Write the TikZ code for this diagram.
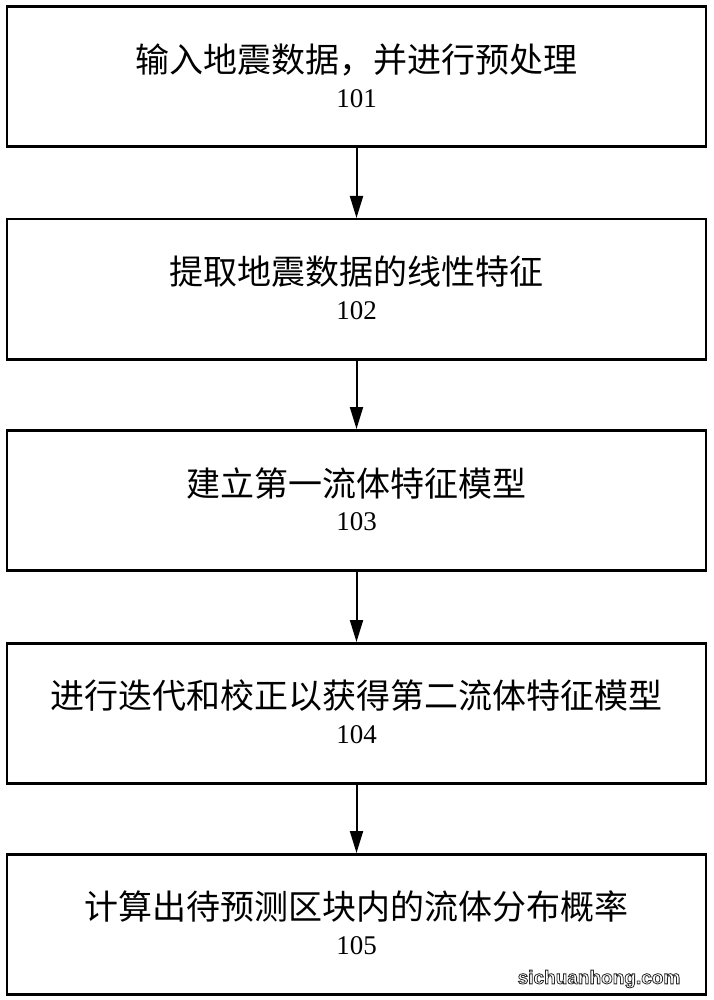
\documentclass[tikz,border=0pt]{standalone}
\usepackage{fontspec}
\setmainfont{Liberation Serif}
\newfontfamily\cjk{Noto Sans CJK SC}
\newfontfamily\wmfont{Liberation Sans}
\usetikzlibrary{arrows.meta}
\begin{document}
\begin{tikzpicture}[x=1pt,y=-1pt,
  stepbox/.style={draw=black,line width=2.5pt,minimum width=699pt,minimum height=140pt,inner sep=0pt,anchor=north},
  cjktext/.style={inner sep=0pt,font=\cjk\fontsize{34}{34}\selectfont},
  numtext/.style={inner sep=0pt,font=\fontsize{27}{27}\selectfont},
  flow/.style={line width=2pt,-{Triangle[length=22pt,width=13pt]}},
  wmark/.style={inner sep=0pt,font=\wmfont\bfseries\fontsize{19}{19}\selectfont}
]
\useasboundingbox[fill=white] (0,0) rectangle (713,1000);
\node[stepbox] (b1) at (356.5,5.5) {};
\node[stepbox] (b2) at (356.5,218) {};
\node[stepbox] (b3) at (356.5,429) {};
\node[stepbox] (b4) at (356.5,642) {};
\node[stepbox] (b5) at (356.5,853) {};
\node[cjktext] (t1) at ([yshift=-54pt]b1.north) {输入地震数据，并进行预处理};
\node[numtext] (n1) at ([yshift=-93pt]b1.north) {101};
\node[cjktext] (t2) at ([yshift=-54pt]b2.north) {提取地震数据的线性特征};
\node[numtext] (n2) at ([yshift=-93pt]b2.north) {102};
\node[cjktext] (t3) at ([yshift=-54pt]b3.north) {建立第一流体特征模型};
\node[numtext] (n3) at ([yshift=-93pt]b3.north) {103};
\node[cjktext] (t4) at ([yshift=-54pt]b4.north) {进行迭代和校正以获得第二流体特征模型};
\node[numtext] (n4) at ([yshift=-93pt]b4.north) {104};
\node[cjktext] (t5) at ([yshift=-54pt]b5.north) {计算出待预测区块内的流体分布概率};
\node[numtext] (n5) at ([yshift=-93pt]b5.north) {105};
\draw[flow] (b1.south) -- (b2.north);
\draw[flow] (b2.south) -- (b3.north);
\draw[flow] (b3.south) -- (b4.north);
\draw[flow] (b4.south) -- (b5.north);
\node[wmark,text=white] (wtext) at (599,979) {\special{pdf:literal direct 0.15 0.15 0.15 RG 0.8 w 2 Tr}sichuanhong.com\special{pdf:literal direct 0 Tr}};
\end{tikzpicture}
\end{document}
